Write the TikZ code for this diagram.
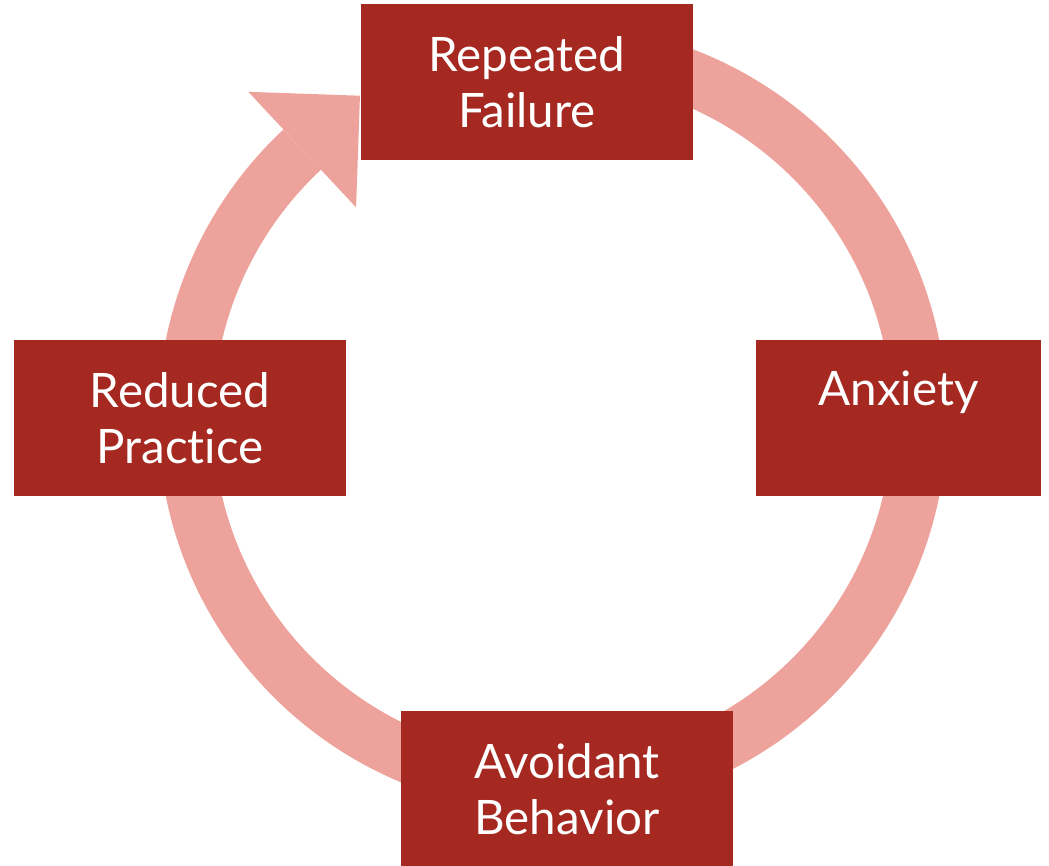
\documentclass[tikz,border=0pt]{standalone}
\usepackage{fontspec}
\setmainfont{Lato}[Ligatures={NoCommon,NoRare}]
\definecolor{boxred}{RGB}{165,41,32}
\definecolor{ringpink}{RGB}{237,163,155}

\begin{document}
\begin{tikzpicture}[x=1pt, y=-1pt,
		stepbox/.style={fill=boxred, text=white, inner sep=0pt, align=center,
			minimum height=156pt, font=\fontsize{47.5}{56.5}\selectfont},
		ring/.style={draw=ringpink, line width=55pt}]
	\useasboundingbox (0, 0) rectangle (1049, 865);

	% ring, drawn first so the boxes sit on top
	\coordinate (c) at (552.5, 418);
	\draw[ring] (c) ++(-95:367) arc[start angle=-95, end angle=227, radius=367]
		coordinate (e);
	\path (e) ++(-43:79) coordinate (tip)
		(e) ++(47:79) coordinate (wingA)
		(e) ++(227:79) coordinate (wingB);
	\fill[ringpink] (wingA) -- (tip) -- (wingB) -- cycle;

	\node[stepbox, minimum width=332pt] (fail) at (527, 82) {Repeated\\Failure};
	\node[stepbox, minimum width=285pt, text height=34pt, text depth=60.6pt]
		(anx) at (898.5, 418.3) {Anxiety};
	\node[stepbox, minimum width=332pt] (avoid) at (567, 789) {Avoidant\\Behavior};
	\node[stepbox, minimum width=332pt] (practice) at (180, 418.3) {Reduced\\Practice};

\end{tikzpicture}
\end{document}
